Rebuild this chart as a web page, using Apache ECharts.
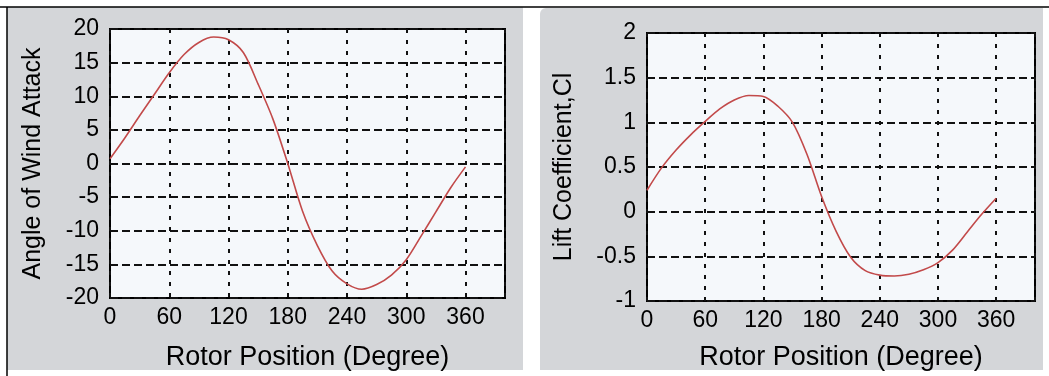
<!DOCTYPE html>
<html>
<head>
<meta charset="utf-8">
<script src="https://cdn.jsdelivr.net/npm/echarts@6/dist/echarts.min.js"></script>
<style>
  html, body { margin: 0; padding: 0; background: #fff; }
  #chart { width: 1049px; height: 376px; }
</style>
</head>
<body>
<div id="chart"></div>
<script>
// rotor position, every 15 degrees
var rotorDeg = [0, 15, 30, 45, 60, 75, 90, 105, 120, 135, 150, 165, 180,
                195, 210, 225, 240, 255, 270, 285, 300, 315, 330, 345, 360];
// left panel: angle of wind attack (deg)
var windAngle = [0.7, 3.8, 7.1, 10.3, 13.5, 16.2, 18.0, 18.8, 18.4, 16.5, 11.8, 6.6, 0.0,
                 -7.1, -12.2, -16.0, -17.9, -18.7, -18.0, -16.6, -14.3, -10.8, -7.2, -3.6, -0.5];
// right panel: lift coefficient Cl
var liftCoef = [0.24, 0.49, 0.69, 0.86, 1.01, 1.15, 1.25, 1.3, 1.29, 1.18, 1.0, 0.64, 0.17,
                -0.22, -0.51, -0.66, -0.71, -0.72, -0.7, -0.65, -0.57, -0.43, -0.23, -0.03, 0.15];

var xTicks = [0, 60, 120, 180, 240, 300, 360];

var font = 'Liberation Sans, Arial, sans-serif';
var tickTxt = { color: '#000', fontFamily: font, fontSize: 23 };
var nameTxt = { color: '#000', fontFamily: font, fontSize: 27 };

function pairs(ys) {
    return rotorDeg.map(function (x, i) { return [x, ys[i]]; });
}

function xAxisOf(idx, gap) {
    return {
        gridIndex: idx,
        type: 'value',
        min: 0, max: 400, interval: 60,
        name: 'Rotor Position (Degree)',
        nameLocation: 'middle',
        nameGap: gap,
        nameTextStyle: nameTxt,
        axisLine: { show: false },
        axisTick: { show: false },
        axisLabel: Object.assign({
            margin: 8,
            showMaxLabel: false,
            formatter: function (v) { return xTicks.indexOf(v) >= 0 ? String(v) : ''; }
        }, tickTxt),
        splitLine: { show: true, lineStyle: { color: '#111', width: 2, type: [4, 7] } }
    };
}

function yAxisOf(idx, lo, hi, step, title, gap) {
    return {
        gridIndex: idx,
        type: 'value',
        min: lo, max: hi, interval: step,
        name: title,
        nameLocation: 'middle',
        nameGap: gap,
        nameTextStyle: Object.assign({}, nameTxt, { fontSize: 25 }),
        axisLine: { show: false },
        axisTick: { show: false },
        axisLabel: Object.assign({ margin: 11 }, tickTxt),
        splitLine: { show: true, lineStyle: { color: '#111', width: 2, type: [8, 4] } }
    };
}

var chart = echarts.init(document.getElementById('chart'), null, { renderer: 'canvas' });

var option = {
    backgroundColor: '#fff',
    animation: false,
    graphic: [
        { type: 'rect', z: -10, shape: { x: 7, y: 7, width: 516, height: 363 }, style: { fill: '#d4d6d9' } },
        { type: 'rect', z: -10, shape: { x: 540, y: 8, width: 503, height: 362, r: [6, 0, 0, 0] }, style: { fill: '#d4d6d9' } },
        { type: 'line', z: -5, shape: { x1: 0, y1: 7, x2: 1049, y2: 7 }, style: { stroke: '#000', lineWidth: 1.5 } },
        { type: 'line', z: -5, shape: { x1: 7, y1: 7, x2: 7, y2: 376 }, style: { stroke: '#000', lineWidth: 1.5 } }
    ],
    grid: [
        { left: 110, top: 29, width: 395, height: 271, show: true,
          backgroundColor: '#f5f8fb', borderColor: '#000', borderWidth: 2 },
        { left: 647, top: 33, width: 388, height: 270, show: true,
          backgroundColor: '#f5f8fb', borderColor: '#000', borderWidth: 2 }
    ],
    xAxis: [xAxisOf(0, 46), xAxisOf(1, 43)],
    yAxis: [
        yAxisOf(0, -20, 20, 5, 'Angle of Wind Attack', 64),
        yAxisOf(1, -1, 2, 0.5, 'Lift Coefficient,Cl', 70)
    ],
    series: [
        {
            type: 'line', xAxisIndex: 0, yAxisIndex: 0,
            data: pairs(windAngle),
            smooth: 0.3, showSymbol: false,
            lineStyle: { color: '#c24a4a', width: 1.6 }
        },
        {
            type: 'line', xAxisIndex: 1, yAxisIndex: 1,
            data: pairs(liftCoef),
            smooth: 0.3, showSymbol: false,
            lineStyle: { color: '#c24a4a', width: 1.6 }
        }
    ]
};

chart.setOption(option);
</script>
</body>
</html>
